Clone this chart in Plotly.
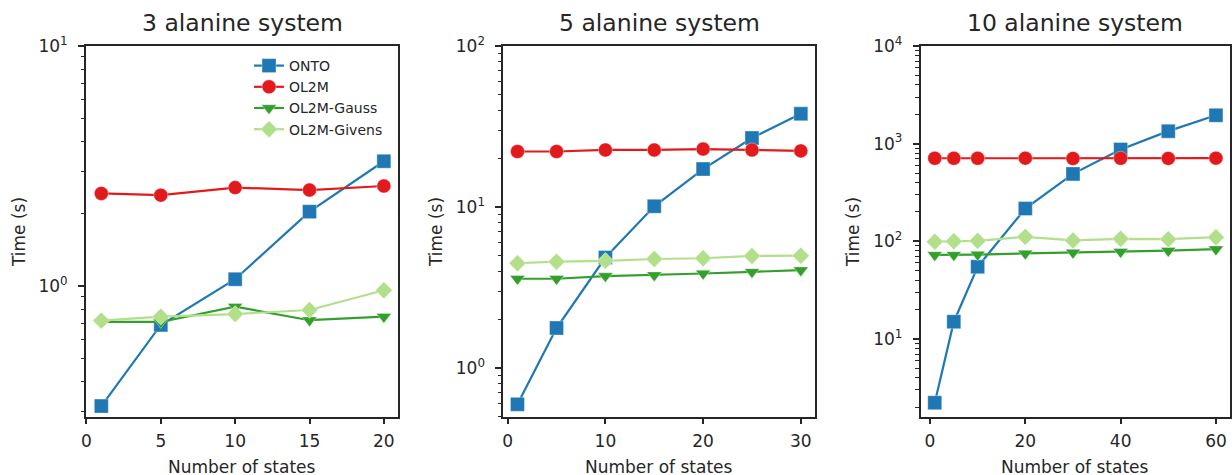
import math
import plotly.graph_objects as go

# ---------------- data ----------------
series_names = ["ONTO", "OL2M", "OL2M-Gauss", "OL2M-Givens"]
panel_titles = ["3 alanine system", "5 alanine system", "10 alanine system"]

states_3 = [1, 5, 10, 15, 20]
onto_3 = [0.316, 0.688, 1.067, 2.04, 3.31]
ol2m_3 = [2.43, 2.39, 2.57, 2.51, 2.61]
gauss_3 = [0.708, 0.708, 0.82, 0.72, 0.745]
givens_3 = [0.717, 0.745, 0.764, 0.794, 0.96]

states_5 = [1, 5, 10, 15, 20, 25, 30]
onto_5 = [0.594, 1.77, 4.85, 10.1, 17.2, 26.8, 37.9]
ol2m_5 = [22.1, 22.1, 22.6, 22.6, 22.9, 22.6, 22.3]
gauss_5 = [3.58, 3.58, 3.72, 3.77, 3.86, 3.95, 4.05]
givens_5 = [4.47, 4.57, 4.63, 4.75, 4.80, 4.96, 4.98]

states_10 = [1, 5, 10, 20, 30, 40, 50, 60]
onto_10 = [2.22, 15.0, 54.8, 216, 490, 870, 1343, 1950]
ol2m_10 = [708, 708, 708, 710, 705, 708, 706, 710]
gauss_10 = [72.4, 72.5, 73, 75, 76.5, 78, 80, 83]
givens_10 = [99, 100, 101, 111, 102, 106, 105, 110]

x_ticks = [[0, 5, 10, 15, 20], [0, 10, 20, 30], [0, 20, 40, 60]]
x_title = "Number of states"
y_title = "Time (s)"

# ---------------- style ----------------
colors = ["#1f78b4", "#e31a1c", "#33a02c", "#b2df8a"]
symbols = ["square", "circle", "triangle-down", "diamond"]
msizes = [14, 14, 13, 13]
TXT = "#262626"
FONT = "DejaVu Sans"

panels = [
    (states_3, [onto_3, ol2m_3, gauss_3, givens_3]),
    (states_5, [onto_5, ol2m_5, gauss_5, givens_5]),
    (states_10, [onto_10, ol2m_10, gauss_10, givens_10]),
]

W, H = 1232, 475
top_px, bottom_px = 46, 417
x_domains = [[86 / W, 398 / W], [503.3 / W, 815 / W], [920.7 / W, 1230 / W]]
y_domain = [1 - bottom_px / H, 1 - top_px / H]
x_ranges = [[-0.03, 20.95], [-0.45, 31.45], [-1.95, 62.95]]
y_ranges = [[-0.546, 1.0], [-0.305, 2.0], [0.2, 4.0]]

fig = go.Figure()

for p, (xs, ys_list) in enumerate(panels):
    ax = "" if p == 0 else str(p + 1)
    for s, ys in enumerate(ys_list):
        fig.add_trace(go.Scatter(
            x=xs, y=ys, mode="lines+markers", name=series_names[s],
            legendgroup=series_names[s], showlegend=(p == 0),
            line=dict(color=colors[s], width=2.2),
            marker=dict(symbol=symbols[s], size=msizes[s], color=colors[s],
                        line=dict(color="rgba(255,255,255,0.6)", width=0.6)),
            xaxis="x" + ax, yaxis="y" + ax,
        ))

layout = dict(
    width=W, height=H,
    margin=dict(l=0, r=0, t=0, b=0),
    paper_bgcolor="white", plot_bgcolor="white",
    font=dict(family=FONT, color=TXT, size=17),
    showlegend=True,
    legend=dict(x=249 / W, y=1 - (top_px + 4) / H, xanchor="left", yanchor="top",
                font=dict(size=14, family=FONT, color=TXT),
                bgcolor="rgba(0,0,0,0)", tracegroupgap=0),
    annotations=[],
)

for p in range(3):
    ax = "" if p == 0 else str(p + 1)
    lo, hi = y_ranges[p]
    majors = [10 ** k for k in range(math.ceil(lo), math.floor(hi) + 1)]
    minors = []
    for k in range(math.floor(lo), math.ceil(hi) + 1):
        for m in range(2, 10):
            v = m * 10 ** k
            if lo <= math.log10(v) <= hi:
                minors.append(v)
    layout["xaxis" + ax] = dict(
        domain=x_domains[p], range=x_ranges[p], anchor="y" + ax,
        tickvals=x_ticks[p], ticks="outside", ticklen=5, tickwidth=1.6,
        tickcolor=TXT, showline=True, linecolor=TXT, linewidth=1.8, mirror=True,
        showgrid=False, zeroline=False, automargin=False,
        ticklabelstandoff=3,
        tickfont=dict(size=17, color=TXT, family=FONT),
    )
    layout["yaxis" + ax] = dict(
        domain=y_domain, type="log", range=y_ranges[p], anchor="x" + ax,
        tickvals=majors,
        ticktext=["10<sup>%d</sup>" % round(math.log10(v)) for v in majors],
        ticks="outside", ticklen=6, tickwidth=1.6, tickcolor=TXT,
        minor=dict(tickmode="array", tickvals=minors, ticks="outside",
                   ticklen=3.5, tickwidth=1.2, tickcolor=TXT, showgrid=False),
        showline=True, linecolor=TXT, linewidth=1.8, mirror=True,
        showgrid=False, zeroline=False, automargin=False,
        ticklabelstandoff=7,
        tickfont=dict(size=17, color=TXT, family=FONT),
        title=dict(text=y_title, font=dict(size=17, color=TXT, family=FONT), standoff=9),
    )
    cx = (x_domains[p][0] + x_domains[p][1]) / 2
    layout["annotations"].append(dict(
        text=panel_titles[p], xref="paper", yref="paper",
        x=cx, y=1 - 23 / H,
        xanchor="center", yanchor="middle", showarrow=False,
        font=dict(size=23.5, color=TXT, family=FONT),
    ))
    layout["annotations"].append(dict(
        text=x_title, xref="paper", yref="paper",
        x=cx, y=1 - 467 / H,
        xanchor="center", yanchor="middle", showarrow=False,
        font=dict(size=17, color=TXT, family=FONT),
    ))

fig.update_layout(**layout)
fig.write_html("out.html", config={"displayModeBar": False},
               post_script="document.body.style.margin='0';document.body.style.overflow='hidden';")
